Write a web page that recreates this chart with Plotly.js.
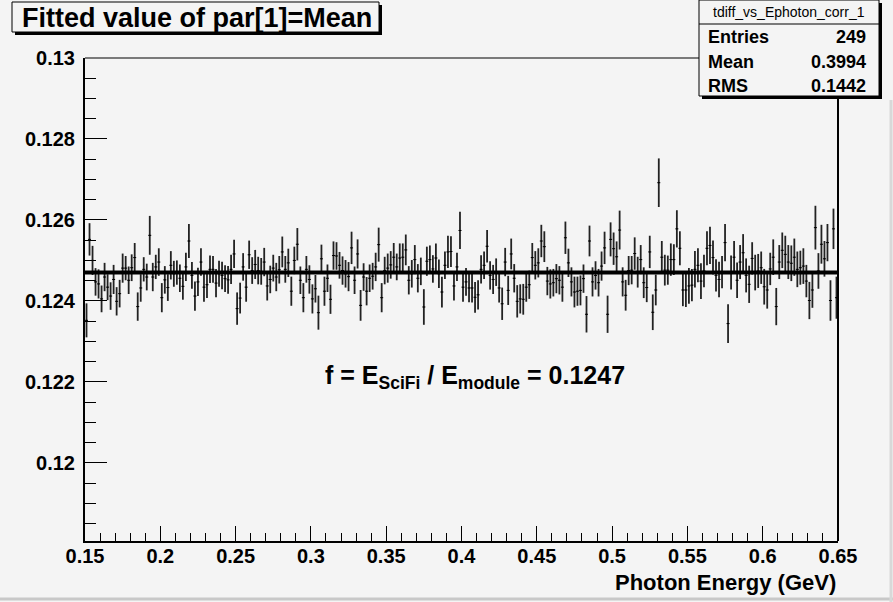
<!DOCTYPE html>
<html>
<head>
<meta charset="utf-8">
<script src="https://cdn.plot.ly/plotly-3.0.1.min.js"></script>
<style>
  html, body { margin: 0; padding: 0; background: #f4f4f4; }
  #chart { width: 893px; height: 602px; }
</style>
</head>
<body>
<div id="chart"></div>
<script>
// ---------------- data ----------------
const chartTitle = "Fitted value of par[1]=Mean";
const xAxisTitle = "Photon Energy (GeV)";
const histName = "tdiff_vs_Ephoton_corr_1";
const statLabels = ["Entries", "Mean", "RMS"];
const statValues = ["249", "0.3994", "0.1442"];
const fitValue = 0.1247;
const binLow = 0.15;
const binWidth = 0.002;
const xTickVals = [0.15, 0.2, 0.25, 0.3, 0.35, 0.4, 0.45, 0.5, 0.55, 0.6, 0.65];
const xTickText = ["0.15", "0.2", "0.25", "0.3", "0.35", "0.4", "0.45", "0.5", "0.55", "0.6", "0.65"];
const yTickVals = [0.12, 0.122, 0.124, 0.126, 0.128, 0.13];
const yTickText = ["0.12", "0.122", "0.124", "0.126", "0.128", "0.13"];

const meanValues = [
  0.12352, 0.12552, 0.12500, 0.12447, 0.12442, 0.12405, 0.12459, 0.12434, 0.12412, 0.12453,
  0.12399, 0.12418, 0.12481, 0.12481, 0.12451, 0.12482, 0.12507, 0.12386, 0.12432, 0.12478,
  0.12459, 0.12562, 0.12459, 0.12484, 0.12496, 0.12408, 0.12452, 0.12433, 0.12488, 0.12467,
  0.12470, 0.12456, 0.12436, 0.12484, 0.12548, 0.12463, 0.12412, 0.12447, 0.12496, 0.12434,
  0.12440, 0.12478, 0.12478, 0.12444, 0.12467, 0.12463, 0.12455, 0.12452, 0.12478, 0.12516,

  0.12381, 0.12407, 0.12484, 0.12434, 0.12514, 0.12475, 0.12490, 0.12475, 0.12473, 0.12496,
  0.12437, 0.12453, 0.12481, 0.12459, 0.12477, 0.12521, 0.12478, 0.12494, 0.12424, 0.12500,
  0.12540, 0.12451, 0.12408, 0.12478, 0.12453, 0.12405, 0.12430, 0.12371, 0.12504, 0.12424,
  0.12456, 0.12404, 0.12512, 0.12511, 0.12488, 0.12475, 0.12467, 0.12460, 0.12531, 0.12451,
  0.12516, 0.12389, 0.12459, 0.12424, 0.12456, 0.12461, 0.12484, 0.12539, 0.12408, 0.12475,

  0.12481, 0.12489, 0.12508, 0.12484, 0.12506, 0.12508, 0.12526, 0.12451, 0.12467, 0.12502,
  0.12456, 0.12473, 0.12385, 0.12498, 0.12502, 0.12479, 0.12506, 0.12467, 0.12422, 0.12488,
  0.12521, 0.12522, 0.12437, 0.12484, 0.12574, 0.12434, 0.12447, 0.12432, 0.12432, 0.12409,
  0.12415, 0.12478, 0.12488, 0.12535, 0.12463, 0.12453, 0.12471, 0.12432, 0.12393, 0.12496,
  0.12426, 0.12516, 0.12456, 0.12399, 0.12405, 0.12404, 0.12434, 0.12440, 0.12507, 0.12488,

  0.12494, 0.12548, 0.12534, 0.12449, 0.12442, 0.12445, 0.12455, 0.12451, 0.12434, 0.12556,
  0.12494, 0.12447, 0.12422, 0.12424, 0.12426, 0.12455, 0.12367, 0.12548, 0.12447, 0.12463,
  0.12445, 0.12486, 0.12531, 0.12367, 0.12552, 0.12529, 0.12509, 0.12575, 0.12447, 0.12414,
  0.12475, 0.12476, 0.12517, 0.12471, 0.12502, 0.12445, 0.12433, 0.12521, 0.12372, 0.12427,
  0.12692, 0.12508, 0.12476, 0.12476, 0.12502, 0.12502, 0.12578, 0.12530, 0.12427, 0.12427,

  0.12437, 0.12439, 0.12478, 0.12488, 0.12449, 0.12474, 0.12530, 0.12537, 0.12507, 0.12463,
  0.12453, 0.12471, 0.12544, 0.12344, 0.12470, 0.12508, 0.12451, 0.12496, 0.12519, 0.12463,
  0.12441, 0.12505, 0.12470, 0.12474, 0.12482, 0.12435, 0.12427, 0.12479, 0.12508, 0.12386,
  0.12496, 0.12525, 0.12515, 0.12496, 0.12493, 0.12508, 0.12478, 0.12482, 0.12486, 0.12449,
  0.12401, 0.12427, 0.12581, 0.12474, 0.12540, 0.12504, 0.12544, 0.12401, 0.12578, 0.12408
];

const meanErrors = [
  0.00042, 0.00040, 0.00036, 0.00034, 0.00036, 0.00033, 0.00035, 0.00032, 0.00034, 0.00036,
  0.00035, 0.00034, 0.00036, 0.00030, 0.00034, 0.00033, 0.00036, 0.00035, 0.00034, 0.00030,
  0.00033, 0.00048, 0.00035, 0.00030, 0.00034, 0.00036, 0.00034, 0.00033, 0.00035, 0.00032,
  0.00030, 0.00034, 0.00033, 0.00035, 0.00042, 0.00033, 0.00036, 0.00035, 0.00034, 0.00036,
  0.00033, 0.00034, 0.00033, 0.00035, 0.00032, 0.00034, 0.00033, 0.00034, 0.00036, 0.00035,

  0.00040, 0.00038, 0.00034, 0.00036, 0.00035, 0.00033, 0.00036, 0.00034, 0.00033, 0.00035,
  0.00036, 0.00034, 0.00033, 0.00035, 0.00034, 0.00038, 0.00033, 0.00035, 0.00036, 0.00034,
  0.00040, 0.00034, 0.00036, 0.00033, 0.00035, 0.00036, 0.00034, 0.00042, 0.00035, 0.00036,
  0.00034, 0.00036, 0.00035, 0.00034, 0.00033, 0.00035, 0.00034, 0.00036, 0.00040, 0.00034,
  0.00036, 0.00038, 0.00034, 0.00035, 0.00034, 0.00033, 0.00035, 0.00042, 0.00036, 0.00034,

  0.00036, 0.00034, 0.00035, 0.00033, 0.00036, 0.00034, 0.00038, 0.00035, 0.00034, 0.00036,
  0.00035, 0.00034, 0.00044, 0.00036, 0.00035, 0.00034, 0.00036, 0.00035, 0.00038, 0.00034,
  0.00040, 0.00038, 0.00036, 0.00035, 0.00046, 0.00036, 0.00034, 0.00035, 0.00036, 0.00038,
  0.00036, 0.00035, 0.00034, 0.00040, 0.00035, 0.00036, 0.00034, 0.00036, 0.00040, 0.00035,
  0.00036, 0.00038, 0.00035, 0.00040, 0.00036, 0.00038, 0.00036, 0.00035, 0.00036, 0.00035,

  0.00036, 0.00040, 0.00038, 0.00035, 0.00036, 0.00034, 0.00036, 0.00035, 0.00036, 0.00040,
  0.00035, 0.00036, 0.00038, 0.00036, 0.00037, 0.00035, 0.00045, 0.00038, 0.00036, 0.00035,
  0.00034, 0.00036, 0.00040, 0.00046, 0.00042, 0.00040, 0.00038, 0.00048, 0.00036, 0.00038,
  0.00036, 0.00035, 0.00040, 0.00038, 0.00036, 0.00038, 0.00036, 0.00040, 0.00044, 0.00038,
  0.00060, 0.00040, 0.00038, 0.00036, 0.00040, 0.00038, 0.00046, 0.00042, 0.00040, 0.00042,

  0.00044, 0.00040, 0.00045, 0.00042, 0.00044, 0.00040, 0.00042, 0.00046, 0.00042, 0.00040,
  0.00044, 0.00040, 0.00046, 0.00048, 0.00042, 0.00040, 0.00044, 0.00042, 0.00046, 0.00042,
  0.00046, 0.00040, 0.00044, 0.00042, 0.00040, 0.00044, 0.00046, 0.00040, 0.00044, 0.00046,
  0.00042, 0.00044, 0.00046, 0.00042, 0.00044, 0.00046, 0.00044, 0.00042, 0.00044, 0.00040,
  0.00046, 0.00044, 0.00054, 0.00044, 0.00048, 0.00044, 0.00046, 0.00050, 0.00050, 0.00052
];

// ---------------- drawing ----------------
const W = 893, H = 602;
const L = 85, R = 838, T = 58, B = 541;
const px = p => (p - L) / (R - L);
const py = p => (B - p) / (B - T);

const binCenters = meanValues.map((_, i) => binLow + binWidth * (i + 0.5));

const dataTrace = {
  type: 'scatter',
  mode: 'markers',
  x: binCenters,
  y: meanValues,
  marker: { size: 1, color: '#000' },
  error_y: { type: 'data', array: meanErrors, visible: true, color: '#222', thickness: 1.8, width: 0 },
  error_x: { type: 'constant', value: binWidth / 2, visible: true, color: '#000', thickness: 1, width: 0 },
  hoverinfo: 'x+y'
};

const fitTrace = {
  type: 'scatter',
  mode: 'lines',
  x: [binLow, binLow + binWidth * meanValues.length],
  y: [fitValue, fitValue],
  line: { color: '#000', width: 4 },
  hoverinfo: 'skip'
};

const FONT = 'Liberation Sans, Arial, Helvetica, sans-serif';
const bg = '#f4f4f4';

const shapes = [
  { type: 'line', xref: 'paper', yref: 'paper', x0: 0, x1: 1, y0: 1, y1: 1, line: { color: '#000', width: 1 } },
  { type: 'line', xref: 'paper', yref: 'paper', x0: 1, x1: 1, y0: 0, y1: 1, line: { color: '#000', width: 2 } },
  { type: 'rect', xref: 'paper', yref: 'paper', x0: px(15), x1: px(382), y0: py(5), y1: py(35), fillcolor: '#000', line: { width: 0 }, layer: 'above' },
  { type: 'rect', xref: 'paper', yref: 'paper', x0: px(12), x1: px(379), y0: py(2), y1: py(32), fillcolor: bg, line: { color: '#000', width: 1 }, layer: 'above' },
  { type: 'rect', xref: 'paper', yref: 'paper', x0: px(702), x1: px(882), y0: py(3), y1: py(99), fillcolor: '#000', line: { width: 0 }, layer: 'above' },
  { type: 'rect', xref: 'paper', yref: 'paper', x0: px(699), x1: px(879), y0: py(0), y1: py(96), fillcolor: bg, line: { color: '#000', width: 1 }, layer: 'above' },
  { type: 'line', xref: 'paper', yref: 'paper', x0: px(699), x1: px(879), y0: py(24), y1: py(24), line: { color: '#000', width: 1 }, layer: 'above' },
  { type: 'line', xref: 'paper', yref: 'paper', x0: px(0), x1: px(893), y0: py(599), y1: py(599), line: { color: '#c8c8c8', width: 3 } },
  { type: 'line', xref: 'paper', yref: 'paper', x0: px(891), x1: px(891), y0: py(100), y1: py(602), line: { color: '#d8d8d8', width: 3 } }
];

const annotations = [
  { xref: 'paper', yref: 'paper', x: px(20), y: py(18), xanchor: 'left', yanchor: 'middle', showarrow: false,
    text: '<b>' + chartTitle + '</b>', font: { family: FONT, size: 27, color: '#000' } },
  { xref: 'paper', yref: 'paper', x: px(789), y: py(12), xanchor: 'center', yanchor: 'middle', showarrow: false,
    text: histName, font: { family: FONT, size: 14, color: '#000' } },
  { xref: 'paper', yref: 'paper', x: px(R), y: py(582), xanchor: 'right', yanchor: 'middle', showarrow: false,
    text: '<b>' + xAxisTitle + '</b>', font: { family: FONT, size: 22, color: '#000' } },
  { xref: 'paper', yref: 'paper', x: px(475), y: py(377), xanchor: 'center', yanchor: 'middle', showarrow: false,
    text: '<b>f = E<sub>SciFi</sub> / E<sub>module</sub> = ' + fitValue + '</b>', font: { family: FONT, size: 25, color: '#000' } }
];
statLabels.forEach((lab, k) => {
  const yy = 37 + k * 24.5;
  annotations.push({ xref: 'paper', yref: 'paper', x: px(706), y: py(yy), xanchor: 'left', yanchor: 'middle', showarrow: false,
    text: '<b>' + lab + '</b>', font: { family: FONT, size: 18, color: '#000' } });
  annotations.push({ xref: 'paper', yref: 'paper', x: px(868), y: py(yy), xanchor: 'right', yanchor: 'middle', showarrow: false,
    text: '<b>' + statValues[k] + '</b>', font: { family: FONT, size: 18, color: '#000' } });
});

const layout = {
  width: W, height: H,
  margin: { l: L, r: W - R, t: T, b: H - B, pad: 0 },
  paper_bgcolor: bg,
  plot_bgcolor: bg,
  showlegend: false,
  xaxis: {
    range: [0.15, 0.65],
    showgrid: false, zeroline: false,
    showline: true, linecolor: '#000', linewidth: 2,
    ticks: 'inside', ticklen: 15, tickwidth: 1, tickcolor: '#000',
    tickvals: xTickVals, ticktext: xTickText,
    minor: { dtick: 0.01, tick0: 0.15, ticks: 'inside', ticklen: 8, tickwidth: 1, tickcolor: '#000', showgrid: false },
    tickfont: { family: FONT, size: 20, color: '#000', weight: 'bold' },
    ticklabelstandoff: -4
  },
  yaxis: {
    range: [0.11807, 0.13],
    showgrid: false, zeroline: false,
    showline: true, linecolor: '#000', linewidth: 2,
    ticks: 'inside', ticklen: 22, tickwidth: 1, tickcolor: '#000',
    tickvals: yTickVals, ticktext: yTickText,
    minor: { dtick: 0.0005, tick0: 0.12, ticks: 'inside', ticklen: 11, tickwidth: 1, tickcolor: '#000', showgrid: false },
    tickfont: { family: FONT, size: 20, color: '#000', weight: 'bold' },
    ticklabelstandoff: 4
  },
  shapes: shapes,
  annotations: annotations
};

Plotly.newPlot('chart', [dataTrace, fitTrace], layout, { staticPlot: true, displayModeBar: false });
</script>
</body>
</html>
